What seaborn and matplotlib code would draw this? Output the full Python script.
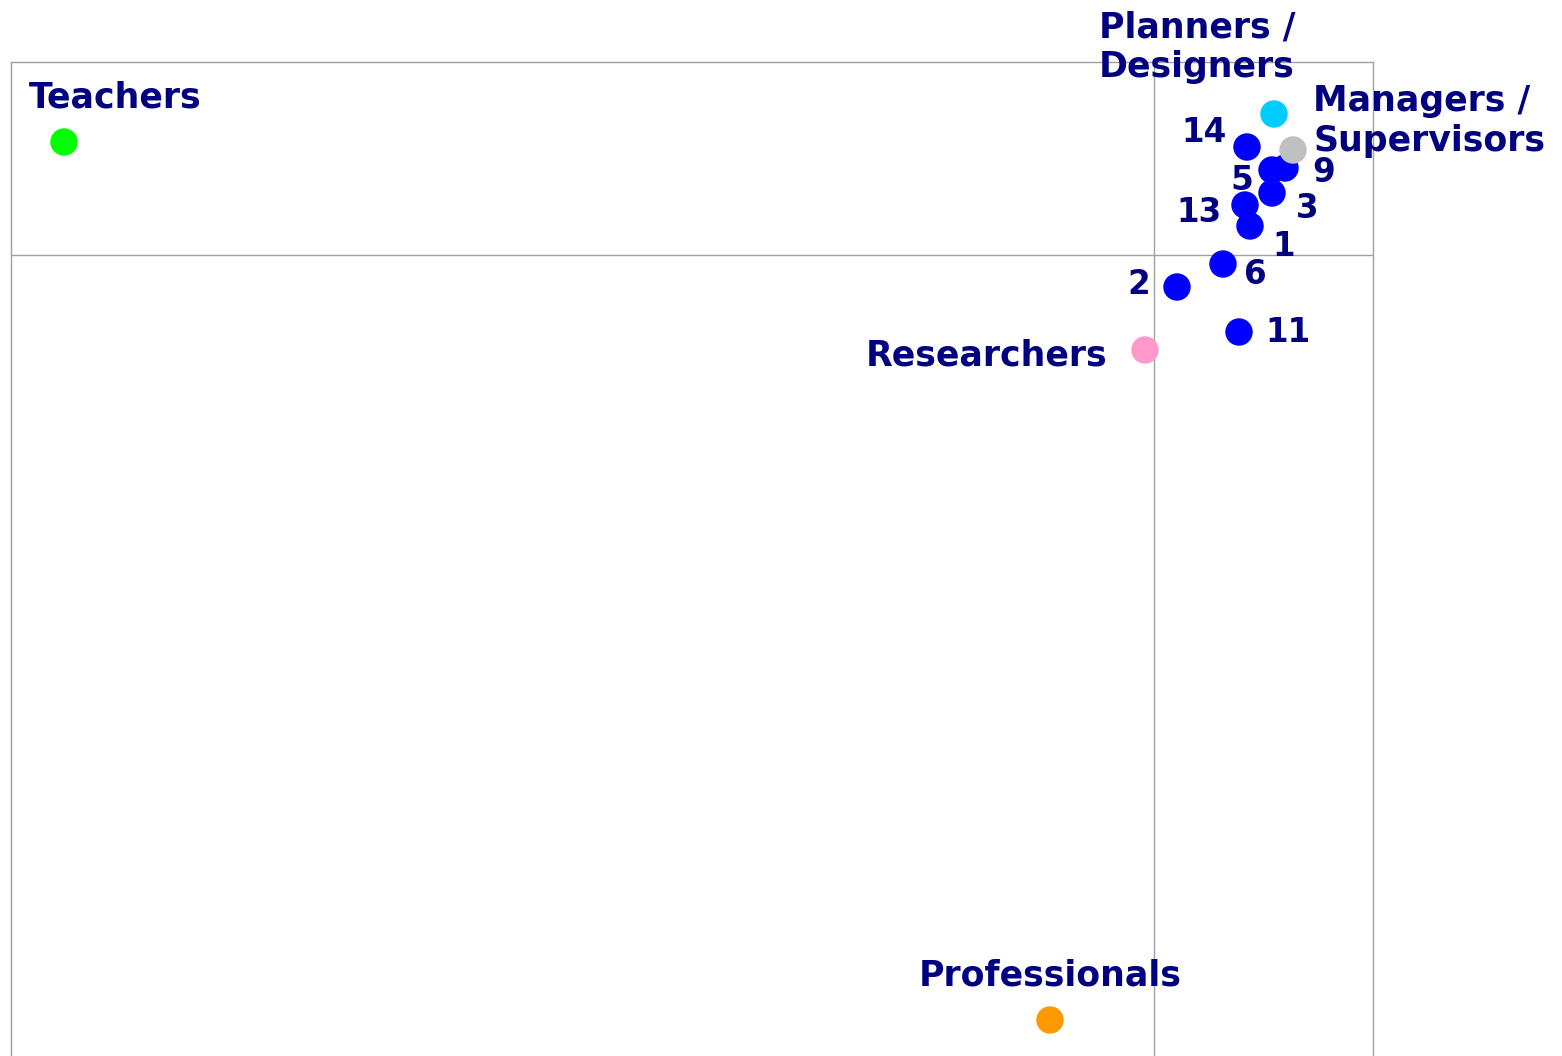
import pandas as pd
import seaborn as sns
from matplotlib import pyplot as plt

# coordinates (origin at the crossing reference lines)
labels = ['Teachers', 'Planners /\nDesigners', '14', '9', '5', '3', '13', '1', '6', '2', '11',
          'Managers /\nSupervisors', 'Researchers', 'Professionals']
dim1 = [-10.90, 1.20, 0.93, 1.31, 1.18, 1.18, 0.91, 0.96, 0.69, 0.23, 0.85,
        1.39, -0.09, -1.04]
dim2 = [1.13, 1.41, 1.08, 0.87, 0.85, 0.62, 0.50, 0.29, -0.09, -0.32, -0.77,
        1.05, -0.95, -7.65]
group = ['Teachers', 'Planners', 'item', 'item', 'item', 'item', 'item', 'item', 'item',
         'item', 'item', 'Managers', 'Researchers', 'Professionals']

colors = {'Teachers': '#00ff00', 'Planners': '#00ccff', 'item': '#0000ff',
          'Managers': '#c0c0c0', 'Researchers': '#ff99cc', 'Professionals': '#ff9900'}

# label placement: (dx, dy in pixels, horizontal alignment)
offsets = {
    'Teachers': (-35, 44, 'left'),
    'Planners /\nDesigners': (-77, 67, 'center'),
    '14': (-20, 15, 'right'),
    '9': (27, -5, 'left'),
    '5': (-30, -10, 'center'),
    '3': (24, -16, 'left'),
    '13': (-23, -7, 'right'),
    '1': (22, -20, 'left'),
    '6': (21, -10, 'left'),
    '2': (-27, 2, 'right'),
    '11': (26, -1, 'left'),
    'Managers /\nSupervisors': (20, 29, 'left'),
    'Researchers': (-38, -6, 'right'),
    'Professionals': (0, 45, 'center'),
}

df = pd.DataFrame({'label': labels, 'dim1': dim1, 'dim2': dim2, 'group': group})

sns.set_style('white')
fig = plt.figure(figsize=(15.62, 10.56), dpi=100)
ax = fig.add_axes([11 / 1562, 0, 1362 / 1562, 994 / 1056])

sns.scatterplot(ax=ax, data=df, x='dim1', y='dim2', hue='group', palette=colors,
                s=390, linewidth=0, legend=False, zorder=3)

ax.axhline(0, color='#a0a0a0', lw=1, zorder=1)
ax.axvline(0, color='#a0a0a0', lw=1, zorder=1)
ax.set_xlim(-11.43, 2.19)
ax.set_ylim(-8.01, 1.93)
ax.set(xticks=[], yticks=[], xlabel='', ylabel='')
for side in ['left', 'right', 'top']:
    ax.spines[side].set_color('#a0a0a0')
    ax.spines[side].set_linewidth(1)
ax.spines['bottom'].set_visible(False)

for lab, x, y in zip(labels, dim1, dim2):
    dx, dy, ha = offsets[lab]
    size = 23.5 if lab.isdigit() else 25
    ax.annotate(lab, (x, y), xytext=(dx, dy), textcoords='offset pixels',
                ha=ha, va='center', multialignment=ha, fontsize=size,
                fontweight='bold', color='#000080', family='DejaVu Sans',
                linespacing=1.2, annotation_clip=False)

fig.savefig('out.png', dpi=100)
